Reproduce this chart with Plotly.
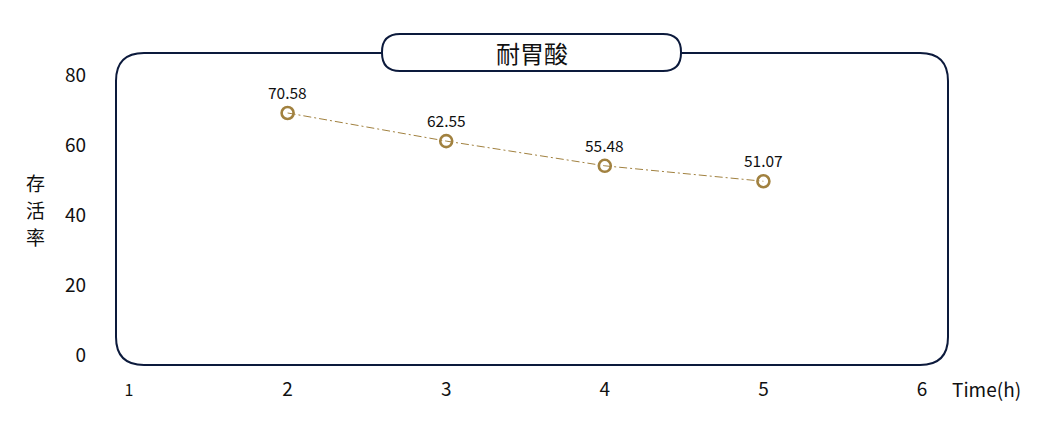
import plotly.graph_objects as go

# data
time_h = [2, 3, 4, 5]
survival = [70.58, 62.55, 55.48, 51.07]
x_ticks = [1, 2, 3, 4, 5, 6]
y_ticks = [0, 20, 40, 60, 80]
y_title_chars = ["存", "活", "率"]

OFF = 8  # page body margin
W, H = 1050 - OFF, 421 - OFF
L, T = 129 - OFF, 80 - OFF
R, B = W - (922 - OFF), H - (360 - OFF)
FONT = "Noto Sans CJK SC"
GOLD = "#a1813f"
NAVY = "#0c1a3c"


def px(x):
    # screen pixel -> paper fraction
    return (x - OFF - L) / (W - L - R)


def py(y):
    return (H - B - (y - OFF)) / (H - T - B)


def rounded_rect(x0, y0, x1, y1, r):
    pts = [
        f"M {px(x0 + r)} {py(y0)}",
        f"L {px(x1 - r)} {py(y0)}",
        f"Q {px(x1)} {py(y0)} {px(x1)} {py(y0 + r)}",
        f"L {px(x1)} {py(y1 - r)}",
        f"Q {px(x1)} {py(y1)} {px(x1 - r)} {py(y1)}",
        f"L {px(x0 + r)} {py(y1)}",
        f"Q {px(x0)} {py(y1)} {px(x0)} {py(y1 - r)}",
        f"L {px(x0)} {py(y0 + r)}",
        f"Q {px(x0)} {py(y0)} {px(x0 + r)} {py(y0)}",
        "Z",
    ]
    return " ".join(pts)


fig = go.Figure()
fig.add_trace(go.Scatter(
    x=time_h, y=survival, mode="lines+markers",
    line=dict(color=GOLD, width=1, dash="8px,3px,2px,3px"),
    marker=dict(symbol="circle-open", size=12, color=GOLD, line=dict(width=2.6)),
    cliponaxis=False, showlegend=False, hoverinfo="x+y",
))

labels = [
    dict(x=t, y=v, text=f"{v:.2f}", showarrow=False, yshift=21,
         font=dict(size=15.5, color="#111111"))
    for t, v in zip(time_h, survival)
]

# stacked vertical axis title, one char per line
ytitle = [
    dict(text=c, x=px(35), y=py(182 + 27 * i), xref="paper", yref="paper",
         xanchor="center", yanchor="middle", showarrow=False, borderpad=0,
         font=dict(size=19, color="#111111"))
    for i, c in enumerate(y_title_chars)
]

tick_text = [str(t) for t in x_ticks]
tick_text[0] = "<span style='font-size:16px'>1</span>"

fig.update_layout(
    width=W, height=H,
    margin=dict(l=L, r=R, t=T, b=B),
    paper_bgcolor="white", plot_bgcolor="white",
    font=dict(family=FONT, size=19, color="#111111"),
    xaxis=dict(range=[1, 6], tickvals=x_ticks, ticktext=tick_text,
               showgrid=False, zeroline=False, showline=False,
               ticklabelstandoff=16, tickfont=dict(size=19)),
    yaxis=dict(range=[0, 80], tickvals=y_ticks, showgrid=False,
               zeroline=False, showline=False,
               ticklabelstandoff=42, ticklabelshift=-5, tickfont=dict(size=19)),
    shapes=[
        dict(type="path", xref="paper", yref="paper",
             path=rounded_rect(116, 53, 948, 365, 28),
             line=dict(color=NAVY, width=2), layer="above"),
        dict(type="path", xref="paper", yref="paper",
             path=rounded_rect(382, 34, 681, 71, 18),
             fillcolor="white", line=dict(color=NAVY, width=2), layer="above"),
    ],
    annotations=labels + ytitle + [
        dict(text="耐胃酸", x=px(532), y=py(53), xref="paper", yref="paper",
             xanchor="center", yanchor="middle",
             showarrow=False, font=dict(size=24, color="#111111")),
        dict(text="Time(h)", x=px(950), y=py(388), xref="paper", yref="paper",
             xanchor="left", yanchor="middle",
             showarrow=False, font=dict(size=19, color="#111111")),
    ],
)

fig.write_html("out.html")
